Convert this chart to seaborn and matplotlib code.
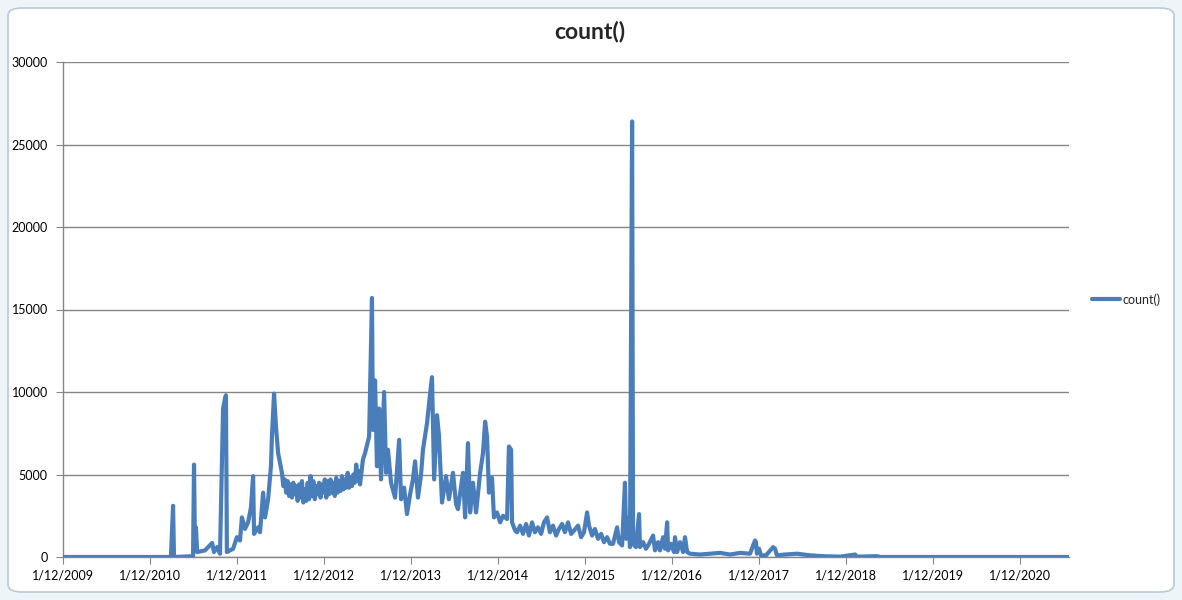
import numpy as np
import pandas as pd
import seaborn as sns
import matplotlib.pyplot as plt
import matplotlib.dates as mdates
from matplotlib.patches import FancyBboxPatch
from matplotlib.ticker import FuncFormatter

# Values: days after 1/12/2009 and count() at that day
start_date = "2009-12-01"
day_offsets = [
    # 2010 - 2011
    0, 453, 462, 466, 546, 550, 554, 558, 563, 596, 626, 634, 647, 659, 672, 680, 684, 688,
    714, 730, 743, 751, 764, 777, 789, 798, 802, 819, 827, 840, 848, 861, 873, 877, 886, 894, 903,
    # 2012 plateau
    919, 925, 931, 937, 943, 949, 955, 961, 967, 973, 979, 985, 991, 997, 1003, 1009, 1015, 1021,
    1027, 1033, 1039, 1045, 1051, 1057, 1063, 1069, 1075, 1081, 1087, 1093, 1099, 1105, 1111, 1117,
    1123, 1129, 1135, 1141, 1147, 1153, 1159, 1165, 1171, 1177, 1183, 1189, 1195, 1201, 1207, 1213,
    1219, 1225, 1231, 1237, 1243, 1247,
    # 2013 - 2014
    1259, 1268, 1285, 1297, 1301, 1310, 1318, 1327, 1335, 1348, 1356, 1364, 1377, 1394, 1411, 1419,
    1432, 1444, 1457, 1469, 1478, 1490, 1503, 1511, 1528, 1541, 1549, 1558, 1570, 1578, 1591, 1608,
    1620, 1637, 1650, 1658, 1679, 1688, 1700, 1709, 1721, 1734, 1751, 1763, 1772, 1780, 1788, 1801,
    1809, 1822, 1835, 1847, 1864, 1872, 1881, 1885,
    # 2015 - 2016
    1898, 1906, 1919, 1931, 1944, 1956, 1969, 1981, 1994, 2007, 2019, 2032, 2044, 2057, 2070, 2082,
    2095, 2107, 2120, 2133, 2145, 2162, 2175, 2187, 2200, 2208, 2221, 2233, 2246, 2259, 2271, 2284,
    2296, 2309, 2326, 2334, 2347, 2359, 2364, 2376, 2380, 2389, 2393, 2405, 2418, 2422, 2435, 2447,
    2460, 2477, 2485, 2498, 2506, 2519, 2527, 2536, 2540, 2552, 2565, 2569, 2578, 2590, 2603, 2611,
    2620, 2632,
    # 2017 onwards
    2674, 2716, 2758, 2800, 2842, 2884, 2905, 2909, 2913, 2922, 2930, 2951, 2981, 2989, 2997, 3031,
    3081, 3136, 3190, 3262, 3325, 3333, 3417, 3430, 4223,
]
counts = [
    # 2010 - 2011
    0, 0, 3100, 0, 50, 5600, 400, 1800, 300, 400, 850, 300, 600, 200, 9000, 9600, 9800, 300,
    500, 1200, 1000, 2400, 1700, 2100, 3000, 4900, 1400, 1800, 1500, 3900, 2400, 3500, 5500, 7300, 9900, 7900, 6300,
    # 2012 plateau
    5100, 4300, 4700, 3900, 4600, 3700, 4400, 3600, 4500, 3800, 4300, 3400, 4400, 3600, 4600, 3300, 4100, 3400,
    4500, 3500, 4900, 3700, 4600, 3500, 4300, 3800, 4500, 3600, 4400, 3900, 4700, 3600, 4600, 3800,
    4700, 3900, 4500, 3700, 4800, 3900, 4600, 4000, 4900, 4100, 4700, 4200, 5100, 4200, 4800, 4300,
    5000, 4500, 5600, 4600, 5200, 4400,
    # 2013 - 2014
    5900, 6300, 7300, 15700, 7700, 10700, 5500, 9000, 4700, 10000, 5100, 6500, 4500, 3600, 7100, 3500,
    4200, 2600, 3800, 4700, 5800, 3600, 5000, 6500, 8100, 9900, 10900, 4700, 8600, 7400, 3300, 4900,
    3500, 5100, 3200, 2900, 5100, 2400, 6900, 2700, 4500, 2700, 5100, 6300, 8200, 7300, 3900, 4800,
    2400, 2700, 2100, 2500, 2300, 6700, 6500, 2100,
    # 2015 - 2016
    1600, 1500, 1900, 1400, 2000, 1300, 2100, 1500, 1800, 1400, 2100, 2400, 1500, 1900, 1300, 1700,
    2000, 1500, 2100, 1400, 1600, 1900, 1200, 1500, 2700, 1900, 1300, 1700, 1100, 1400, 900, 1200,
    800, 800, 1800, 900, 700, 4500, 1100, 2400, 600, 26400, 800, 600, 2600, 600, 900, 500,
    800, 1300, 400, 900, 400, 1200, 500, 2100, 400, 800, 300, 1200, 300, 900, 300, 1200,
    300, 200,
    # 2017 onwards
    150, 200, 250, 150, 250, 200, 1000, 900, 200, 500, 100, 100, 600, 500, 100, 150,
    200, 100, 50, 20, 150, 20, 50, 0, 0,
]
y_ticks = [0, 5000, 10000, 15000, 20000, 25000, 30000]
series_name = "count()"

df = pd.DataFrame({
    "date": pd.Timestamp(start_date) + pd.to_timedelta(day_offsets, unit="D"),
    series_name: counts,
})

sns.set_style("white")
plt.rcParams["font.family"] = ["Lato", "DejaVu Sans"]

fig = plt.figure(figsize=(11.82, 6.0), dpi=100)
fig.patch.set_facecolor("#eef5f8")
# rounded white chart frame like the Excel chart object
frame = FancyBboxPatch((8 / 1182, 8 / 600), 1166 / 1182, 584 / 600,
                       boxstyle="round,pad=0,rounding_size=0.012",
                       transform=fig.transFigure, facecolor="white",
                       edgecolor="#b9c9d6", linewidth=1.2, zorder=-5)
fig.patches.append(frame)

ax = fig.add_axes([63 / 1182, 43 / 600, 1006 / 1182, 495 / 600])
ax.set_zorder(2)
ax.patch.set_alpha(0)

sns.lineplot(data=df, x="date", y=series_name, ax=ax, color="#4a7ebb",
             linewidth=3.0, label=series_name, zorder=3)

ax.set_xlim(pd.Timestamp(start_date), pd.Timestamp(start_date) + pd.Timedelta(days=4223))
ax.set_ylim(0, 30000)
ax.set_yticks(y_ticks)
ax.yaxis.grid(True, color="#868686", linewidth=1)
ax.xaxis.grid(False)
ax.set_axisbelow(True)

ax.xaxis.set_major_locator(mdates.YearLocator(base=1, month=12, day=1))
ax.xaxis.set_major_formatter(FuncFormatter(
    lambda v, pos: "{d.day}/{d.month}/{d.year}".format(d=mdates.num2date(v))))

for side in ["top", "right"]:
    ax.spines[side].set_visible(False)
for side in ["left", "bottom"]:
    ax.spines[side].set_color("#868686")
    ax.spines[side].set_linewidth(1)
ax.tick_params(axis="both", direction="out", length=5, color="#868686",
               labelsize=9, labelcolor="#000000", left=True, bottom=True)
ax.tick_params(axis="x", pad=4)
ax.tick_params(axis="y", pad=6)
ax.set_xlabel("")
ax.set_ylabel("")

fig.text(590 / 1182, 1 - 32 / 600, "count()", ha="center", va="center",
         fontsize=16.5, fontweight="bold")

ax.legend(loc="center left", bbox_to_anchor=(1.012, 0.52), frameon=False,
          fontsize=9, handlelength=2.2, handletextpad=0.2)

plt.savefig("out.png", dpi=100)
